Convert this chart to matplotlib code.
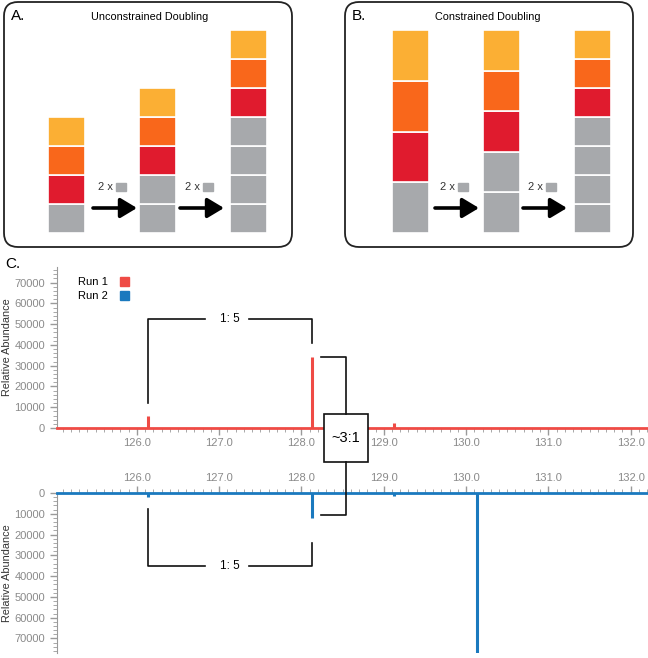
import numpy as np
import matplotlib
matplotlib.use("Agg")
import matplotlib.pyplot as plt
from matplotlib.patches import FancyBboxPatch, Rectangle, Patch
from matplotlib.ticker import MultipleLocator, FuncFormatter

plt.rcParams['font.family'] = ['Liberation Sans', 'DejaVu Sans']

# Couleurs
Jaune = '#FBAF34'
Orange = '#F9671B'
Rouge = '#E01B2E'
Gris = '#A7A9AC'
Run1 = '#EF4B45'
Run2 = '#1A79BE'
Texte_gris = '#8A8A8A'

# Panneaux A/B : nombre de blocs gris sous les 3 blocs colores
gray_blocks = [1, 2, 4]
tag_colors = [Rouge, Orange, Jaune]
stack_total = 7  # hauteur normalisee pour le doublement contraint

# Spectres (m/z, intensite)
run1_mz = [126.13, 128.13, 129.13]
run1_int = [6000, 34000, 2500]
run2_mz = [126.13, 128.13, 129.13, 130.13, 131.56]
run2_int = [2000, 12000, 1500, 80000, 700]
y_ticks = [0, 10000, 20000, 30000, 40000, 50000, 60000, 70000]
x_range = (125.03, 132.21)

W, H = 648, 658
fig = plt.figure(figsize=(W / 100, H / 100), dpi=100)


def frac(x0, y0, x1, y1):
    return [x0 / W, 1 - y1 / H, (x1 - x0) / W, (y1 - y0) / H]


def draw_stacks(ax, constrained):
    for i, n_gray in enumerate(gray_blocks):
        colors = [Gris] * n_gray + tag_colors
        h = stack_total / len(colors) if constrained else 1.0
        bottom = 0
        for c in colors:
            ax.bar(i, h, bottom=bottom, width=0.41, color=c,
                   edgecolor='white', linewidth=1.2)
            bottom += h
    ax.set_xlim(-0.5, 2.5)
    ax.set_ylim(0, stack_total)
    ax.axis('off')


ax_a = fig.add_axes(frac(21, 30, 294, 233))
draw_stacks(ax_a, False)
ax_b = fig.add_axes(frac(365, 30, 638, 233))
draw_stacks(ax_b, True)

# Spectres
ax1 = fig.add_axes(frac(57, 267, 648, 428))
ax2 = fig.add_axes(frac(57, 493, 648, 653))

ax1.vlines(run1_mz, 0, run1_int, color=Run1, linewidth=2.2)
ax2.vlines(run2_mz, 0, run2_int, color=Run2, linewidth=2.2)

for ax, col, inv in [(ax1, Run1, False), (ax2, Run2, True)]:
    ax.set_facecolor('none')
    ax.set_xlim(*x_range)
    ax.set_yticks(y_ticks)
    ax.yaxis.set_minor_locator(MultipleLocator(2000))
    ax.xaxis.set_major_locator(MultipleLocator(1))
    ax.xaxis.set_minor_locator(MultipleLocator(0.1))
    ax.xaxis.set_major_formatter(FuncFormatter(lambda v, p: f'{v:.1f}'))
    for s in ax.spines.values():
        s.set_visible(False)
    ax.spines['left'].set_visible(True)
    ax.spines['left'].set_color('#9a9a9a')
    ax.tick_params(axis='both', colors='#9a9a9a', labelcolor=Texte_gris,
                   labelsize=8, width=1)
    ax.tick_params(which='major', length=5)
    ax.tick_params(which='minor', length=3, color='#9a9a9a')
    ax.set_ylabel('Relative Abundance', fontsize=7.8, color='#333333')
    ax.yaxis.set_label_coords(-0.076, 0.5)
    if inv:
        ax.set_ylim(77000, 0)
        ax.spines['top'].set_visible(True)
        ax.spines['top'].set_color(col)
        ax.spines['top'].set_linewidth(2)
        ax.xaxis.tick_top()
        ax.tick_params(axis='x', which='both', pad=2)
    else:
        ax.set_ylim(0, 77500)
        ax.spines['bottom'].set_visible(True)
        ax.spines['bottom'].set_color(col)
        ax.spines['bottom'].set_linewidth(2)
        ax.tick_params(axis='x', which='both', pad=2)

ax1.set_xlabel('m/z', fontsize=8.5, color='#333333', labelpad=3)
ax1.legend(handles=[Patch(color=Run1, label='Run 1'),
                    Patch(color=Run2, label='Run 2')],
           markerfirst=False, frameon=False, loc='upper left',
           bbox_to_anchor=(0.018, 1.0), fontsize=8, handlelength=0.8,
           handleheight=0.8, labelspacing=0.35, handletextpad=1.1)

# Calque d'annotation en pixels
ov = fig.add_axes([0, 0, 1, 1], zorder=10)
ov.set_xlim(0, W)
ov.set_ylim(H, 0)
ov.axis('off')
ov.patch.set_visible(False)

for x0, title, letter in [(4, 'Unconstrained Doubling', 'A.'),
                          (345, 'Constrained Doubling', 'B.')]:
    ov.add_patch(FancyBboxPatch((x0, 2), 288, 245,
                                boxstyle='round,pad=0,rounding_size=14',
                                facecolor='none', edgecolor='#222222',
                                linewidth=1.3))
    ov.text(x0 + 7, 16, letter, fontsize=11, va='center', ha='left')
    ov.text(x0 + 146 if x0 < 300 else x0 + 143, 17, title, fontsize=7.8,
            va='center', ha='center')

# fleches 2 x
for bx in [95, 182, 437, 525]:
    ov.text(bx + 3, 187, '2 x', fontsize=8, va='center', ha='left',
            color='#333333')
    ov.add_patch(Rectangle((bx + 21, 183), 10, 8, color=Gris))
    ov.annotate('', xy=(bx + 42, 208), xytext=(bx - 2, 208),
                arrowprops=dict(arrowstyle='-|>,head_length=0.5,head_width=0.3',
                                lw=2.6, color='black', mutation_scale=20,
                                shrinkA=0, shrinkB=0))


def mz_px(mz):
    return 57 + (mz - x_range[0]) / (x_range[1] - x_range[0]) * (648 - 57)


xa, xb = mz_px(run1_mz[0]), mz_px(run1_mz[1])
k = dict(color='#111111', linewidth=1.2)
# crochet haut
ov.plot([xa, xa, xa + 57], [403, 319, 319], **k)
ov.plot([xb - 63, xb, xb], [319, 319, 343], **k)
ov.text((xa + xb) / 2, 319, '1: 5', fontsize=8.5, ha='center', va='center')
# crochet bas
ov.plot([xa, xa, xa + 57], [509, 566, 566], **k)
ov.plot([xb - 63, xb, xb], [566, 566, 543], **k)
ov.text((xa + xb) / 2, 566, '1: 5', fontsize=8.5, ha='center', va='center')
# ~3:1
ov.plot([xb + 9, 346, 346], [357, 357, 414], **k)
ov.plot([xb + 9, 346, 346], [515, 515, 462], **k)
ov.add_patch(Rectangle((324, 414), 44, 48, facecolor='white',
                       edgecolor='#111111', linewidth=1.2))
ov.text(346, 438, '~3:1', fontsize=10.5, ha='center', va='center')

ov.text(5, 264, 'C.', fontsize=11, ha='left', va='center')

fig.savefig('out.png', dpi=100)
